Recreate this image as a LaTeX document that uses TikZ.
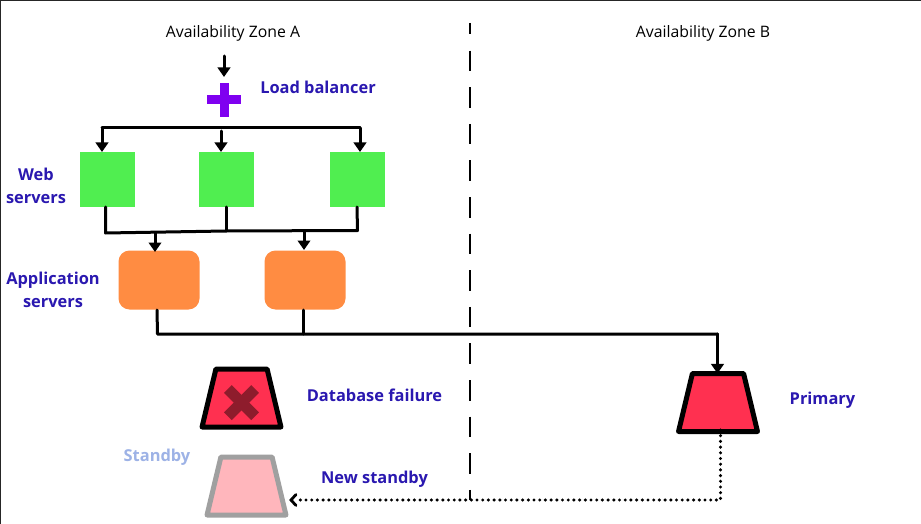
\documentclass[tikz,border=0pt]{standalone}
\usepackage{fontspec}
\setmainfont{Open Sans}
\usetikzlibrary{arrows.meta,shapes.geometric,calc}
\definecolor{lbl}{HTML}{2A18B0}
\definecolor{lblpale}{HTML}{9DB2E6}
\definecolor{webg}{HTML}{50EE50}
\definecolor{apporange}{HTML}{FF8C42}
\definecolor{plusv}{HTML}{7F00F0}
\definecolor{dbred}{HTML}{FF3050}
\definecolor{xred}{HTML}{8E1C2C}
\definecolor{sbpink}{HTML}{FFB6BC}
\definecolor{sbgray}{HTML}{A0A0A0}
\tikzset{
  webbox/.style={rectangle,fill=webg,draw=none,minimum width=55pt,minimum height=55pt,inner sep=0,outer sep=0},
  appbox/.style={rectangle,rounded corners=11pt,fill=apporange,draw=none,minimum width=81pt,minimum height=59pt,inner sep=0,outer sep=0},
  dbbox/.style={trapezium,trapezium stretches=true,trapezium left angle=75,trapezium right angle=75,minimum width=79pt,minimum height=58pt,inner sep=2pt,outer sep=0,line width=5pt,line join=round},
  zonetext/.style={font=\fontsize{15.8}{19}\selectfont,text=black,inner sep=0},
  bluetext/.style={font=\fontsize{16.4}{23}\selectfont\bfseries,text=lbl,inner sep=0,align=center},
  wire/.style={line width=3pt,line cap=round,line join=round},
  arrowwire/.style={wire,-{Triangle[width=12.5pt,length=9.5pt]}},
  dotwire/.style={line width=3.4pt,dash pattern=on 0pt off 5.7pt,line cap=round},
}
\begin{document}
\begin{tikzpicture}[x=1pt,y=-1pt]
\useasboundingbox (0,0) rectangle (921,524);
\fill[white] (0,0) rectangle (921,524);
\draw[line width=1.5pt,color=black!85] (0.5,524) -- (0.5,0.5) -- (921,0.5);
% labels
\node[zonetext] (za) at (233,33.5) {Availability Zone A};
\node[zonetext] (zb) at (703,33.5) {Availability Zone B};
\node[bluetext] (tlb) at (318,87) {Load balancer};
\node[bluetext] (tweb) at (36,186) {Web\\servers};
\node[bluetext] (tapp) at (53,290) {Application\\servers};
\node[bluetext] (tfail) at (374.5,395) {Database failure};
\node[bluetext] (tprim) at (822.5,400.5) {Primary};
\node[bluetext,text=lblpale] (tsb) at (157,457.5) {Standby};
\node[bluetext] (tnew) at (374.5,479.5) {New standby};
% zone divider
\coordinate (divtop) at (470,23);
\coordinate (divbot) at (470,500);
\draw[line width=2.5pt,dash pattern=on 20.5pt off 16.1pt,dash phase=9pt] (divtop) -- (divbot);
% load balancer
\node[rectangle,minimum size=34pt,inner sep=0,outer sep=0] (lb) at (224,100) {};
\fill[plusv] ($(lb.center)+(-4.5,-17)$) rectangle ($(lb.center)+(4.5,17)$);
\fill[plusv] ($(lb.center)+(-17,-4.5)$) rectangle ($(lb.center)+(17,4.5)$);
% servers
\node[webbox] (w1) at (107.5,179.5) {};
\node[webbox] (w2) at (226.5,179.5) {};
\node[webbox] (w3) at (357.5,179.5) {};
\node[appbox] (a1) at (159,280) {};
\node[appbox] (a2) at (305,280) {};
% databases
\node[dbbox,draw=black,fill=dbred] (dbfail) at (241.5,398) {\phantom{x}};
\node[dbbox,draw=black,fill=dbred] (dbprim) at (718,402.5) {\phantom{x}};
\node[dbbox,draw=sbgray,fill=sbpink] (dbnew) at (246.5,486) {\phantom{x}};
\draw[xred,line width=11pt] ($(dbfail.center)+(-13.6,-9)$) -- ($(dbfail.center)+(13.6,18.2)$);
\draw[xred,line width=11pt] ($(dbfail.center)+(13.6,-9)$) -- ($(dbfail.center)+(-13.6,18.2)$);
% connectors
\coordinate (in) at (224,56);
\draw[arrowwire] (in) -- ($(lb.north)+(0,-6)$);
\coordinate (busl) at (102,128);
\coordinate (busr) at (360,128);
\draw[wire] (busl) -- (busr);
\draw[arrowwire] (busl) -- (busl |- w1.north);
\draw[arrowwire] (221,131) -- (221,152);
\draw[arrowwire] (busr) -- (busr |- w3.north);
\coordinate (m1) at (105.5,233);
\coordinate (m2) at (226,231);
\coordinate (m3) at (357.5,230.5);
\draw[wire] (105.5,207) -- (m1) -- (m2) -- (m3) -- (357,207);
\draw[wire] (226,207) -- (m2);
\draw[arrowwire] (155,233) -- (155,252);
\draw[arrowwire] (304,232) -- (304,250);
\coordinate (b1) at (157.5,334);
\coordinate (bend) at (717.5,334);
\draw[wire] (157,310) -- (b1) -- (bend);
\draw[wire] (303,310) -- (303,334);
\draw[arrowwire] (bend) -- (dbprim.north -| bend);
\coordinate (d1) at (720.5,500);
\draw[dotwire] (720.5,430) -- (d1) -- (297,500);
\draw[line width=2.8pt,line cap=round,line join=miter] (296,494.5) -- (291,500) -- (296,505.5);
\end{tikzpicture}
\end{document}
